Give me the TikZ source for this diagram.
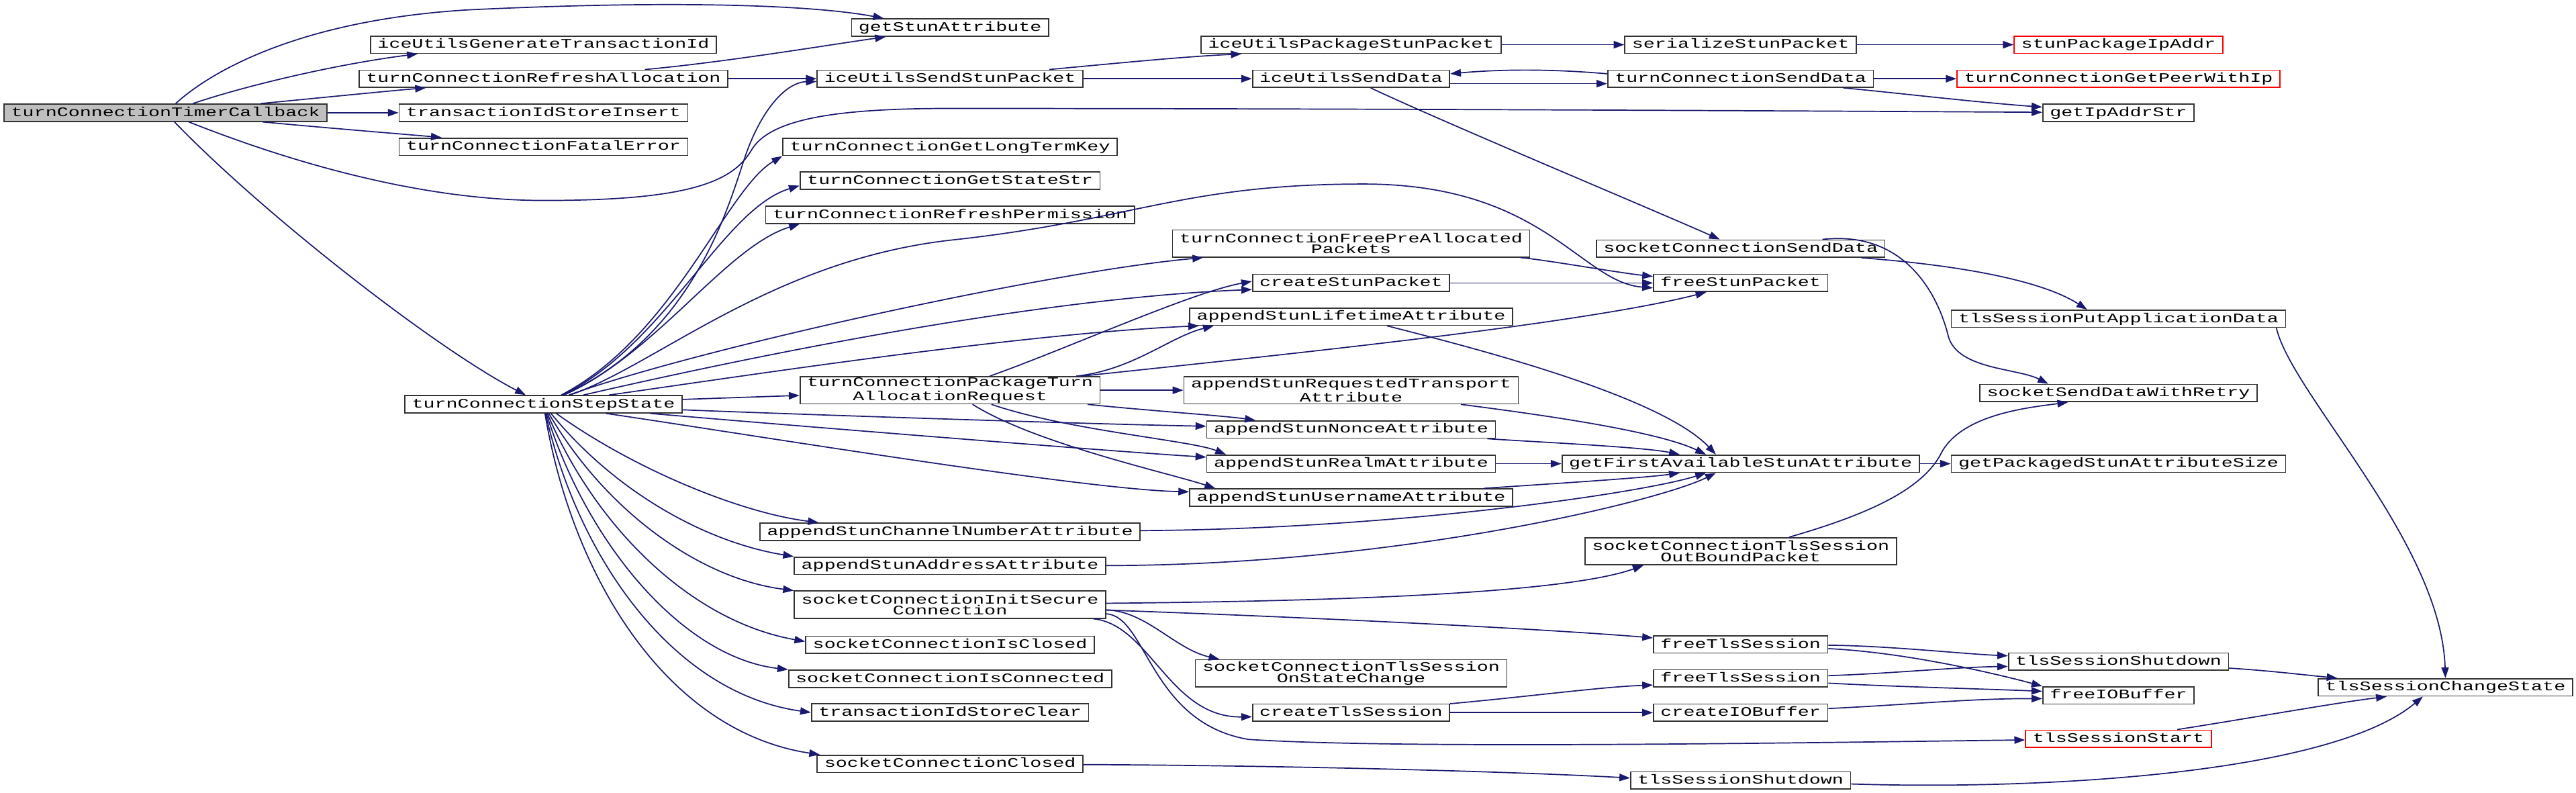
\documentclass[tikz,border=0pt]{standalone}
\usepackage{fontspec}
\newfontfamily\nodefont[FakeStretch=1.45]{Liberation Mono}
\usetikzlibrary{arrows.meta}
\definecolor{edgecol}{HTML}{191970}
\begin{document}
\begin{tikzpicture}[x=1pt,y=-1pt,
  fn/.style={draw=black!80, fill=white, line width=0.7pt, inner xsep=4.3pt, inner ysep=0pt,
    minimum height=10.5pt, font=\nodefont\fontsize{8pt}{6.8pt}\selectfont, align=center,
    text height=5.9pt, text depth=1.6pt},
  two/.style={text height=, text depth=, minimum height=16.5pt},
  redfn/.style={draw=red},
  rootfn/.style={fill=black!25},
  call/.style={draw=edgecol, line width=0.7pt, -{Triangle[length=6.5pt,width=4.5pt]}}
]
\fill[white] (0,0) rectangle (1568,482.6);
\useasboundingbox (0,0) rectangle (1568,482.6);

% rank 0
\node[fn,rootfn] (root) at (100.8,68.6) {turnConnectionTimerCallback};
% rank 1
\node[fn] (N3) at (330.8,27.2) {iceUtilsGenerateTransactionId};
\node[fn] (N4) at (330.8,47.9) {turnConnectionRefreshAllocation};
\node[fn] (N5) at (330.8,68.6) {transactionIdStoreInsert};
\node[fn] (N6) at (330.8,89.3) {turnConnectionFatalError};
\node[fn] (N7) at (330.8,246) {turnConnectionStepState};
% rank 2
\node[fn] (N2) at (578.3,16.8) {getStunAttribute};
\node[fn] (N8) at (578.3,47.9) {iceUtilsSendStunPacket};
\node[fn] (N16) at (578.3,89.4) {turnConnectionGetLongTermKey};
\node[fn] (N17) at (578.3,110) {turnConnectionGetStateStr};
\node[fn] (N18) at (578.3,130.7) {turnConnectionRefreshPermission};
\node[fn,two] (N25) at (578.3,237.5) {turnConnectionPackageTurn\\AllocationRequest};
\node[fn] (N33) at (578.3,323.6) {appendStunChannelNumberAttribute};
\node[fn] (N35) at (578.3,344.3) {appendStunAddressAttribute};
\node[fn,two] (N36) at (578.3,368) {socketConnectionInitSecure\\Connection};
\node[fn] (N40) at (578.3,392.4) {socketConnectionIsClosed};
\node[fn] (N44) at (578.3,413.1) {socketConnectionIsConnected};
\node[fn] (N47) at (578.3,433.6) {transactionIdStoreClear};
\node[fn] (N49) at (578.3,464.9) {socketConnectionClosed};
% rank 3
\node[fn] (N9) at (822.4,27.2) {iceUtilsPackageStunPacket};
\node[fn] (N12) at (822.4,47.9) {iceUtilsSendData};
\node[fn,two] (N19) at (822.4,148.2) {turnConnectionFreePreAllocated\\Packets};
\node[fn] (N21) at (822.4,172.2) {createStunPacket};
\node[fn] (N23) at (822.4,192.7) {appendStunLifetimeAttribute};
\node[fn,two] (N26) at (822.4,237.5) {appendStunRequestedTransport\\Attribute};
\node[fn] (N28) at (822.4,261.4) {appendStunNonceAttribute};
\node[fn] (N31) at (822.4,282.2) {appendStunRealmAttribute};
\node[fn] (N32) at (822.4,302.8) {appendStunUsernameAttribute};
\node[fn,two] (N38) at (822.4,409.8) {socketConnectionTlsSession\\OnStateChange};
\node[fn] (N45) at (822.4,433.7) {createTlsSession};
% rank 4
\node[fn] (N10) at (1059.5,27.2) {serializeStunPacket};
\node[fn] (N13) at (1059.5,47.9) {turnConnectionSendData};
\node[fn] (N20) at (1059.5,151.3) {socketConnectionSendData};
\node[fn] (N22) at (1059.5,172.2) {freeStunPacket};
\node[fn] (N29) at (1059.5,282.2) {getFirstAvailableStunAttribute};
\node[fn,two] (N34) at (1059.5,335.5) {socketConnectionTlsSession\\OutBoundPacket};
\node[fn] (N37) at (1059.5,392.2) {freeTlsSession};
\node[fn] (N42) at (1059.5,412.9) {freeTlsSession};
\node[fn] (N46) at (1059.5,433.7) {createIOBuffer};
\node[fn] (N50) at (1059.5,475) {tlsSessionShutdown};
% rank 5
\node[fn,redfn] (N11) at (1289.5,27.2) {stunPackageIpAddr};
\node[fn,redfn] (N14) at (1289.5,47.9) {turnConnectionGetPeerWithIp};
\node[fn] (N15) at (1289.5,68.6) {getIpAddrStr};
\node[fn] (N24) at (1289.5,194) {tlsSessionPutApplicationData};
\node[fn] (N27) at (1289.5,239.2) {socketSendDataWithRetry};
\node[fn] (N30) at (1289.5,282.2) {getPackagedStunAttributeSize};
\node[fn] (N39) at (1289.5,402.6) {tlsSessionShutdown};
\node[fn] (N41) at (1289.5,423.2) {freeIOBuffer};
\node[fn,redfn] (N48) at (1289.5,449.6) {tlsSessionStart};
% rank 6
\node[fn] (N43) at (1488.5,418.3) {tlsSessionChangeState};

% root edges
\draw[call] (root) .. controls (130,42) and (185,12) .. (285,6) .. controls (410,0) and (495,3) .. ([xshift=20pt]N2.north west);
\draw[call] (root) .. controls (150,52) and (205,39) .. ([xshift=29pt]N3.south west);
\draw[call] (root) .. controls (190,60) and (240,55) .. (N4);
\draw[call] (root) -- (N5);
\draw[call] (root) .. controls (200,78) and (250,82) .. (N6);
\draw[call] (root) .. controls (175,98) and (255,122) .. (331,122) .. controls (415,122) and (445,112) .. (457,92) .. controls (468,72) and (510,66) .. (578,66) .. controls (800,66) and (1100,67.5) .. (N15);
\draw[call] (root) .. controls (160,130) and (265,212) .. (N7);

% N4
\draw[call] (N4) .. controls (440,38) and (500,28) .. (N2);
\draw[call] (N4) -- (N8);

% N8 and upper chain
\draw[call] (N8) .. controls (685,38) and (720,34.5) .. ([xshift=25pt]N9.south west);
\draw[call] (N8) -- (N12);
\draw[call] (N9) -- (N10);
\draw[call] (N10) -- (N11);
\draw[call] ([yshift=-3pt]N12.east) -- ([yshift=-3pt]N13.west);
\draw[call] ([yshift=3pt]N13.west) .. controls (945,42) and (915,42) .. ([yshift=3pt]N12.east);
\draw[call] (N13) -- (N14);
\draw[call] (N13) .. controls (1150,56) and (1200,62) .. (N15);
\draw[call] (N12) .. controls (880,75) and (1000,125) .. (N20);

% N7 fan-out
\draw[call] (N7) .. controls (420,205) and (442,130) .. (452,100) .. controls (462,68) and (478,50) .. (N8);
\draw[call] (N7) .. controls (410,205) and (442,115) .. (N16.south west);
\draw[call] (N7) .. controls (405,210) and (440,127) .. ([yshift=-3pt]N17.west);
\draw[call] (N7) .. controls (400,215) and (442,150) .. ([xshift=21pt]N18.south west);
\draw[call] (N7) .. controls (400,222) and (470,158) .. (580,146) .. controls (690,134) and (720,112) .. (830,112) .. controls (940,112) and (962,172) .. ([yshift=-3pt]N22.west);
\draw[call] (N7) .. controls (425,212) and (640,165) .. ([xshift=19pt]N19.south west);
\draw[call] (N7) .. controls (435,222) and (620,182) .. ([yshift=-4pt]N21.west);
\draw[call] (N7) .. controls (445,230) and (620,203) .. ([xshift=6pt]N23.south west);
\draw[call] (N7) -- (N25);
\draw[call] (N7) .. controls (480,252) and (660,258) .. ([yshift=2pt]N28.west);
\draw[call] (N7) .. controls (470,258) and (680,275) .. ([yshift=4pt]N31.west);
\draw[call] (N7) .. controls (460,265) and (660,298) .. ([yshift=3.5pt]N32.west);
\draw[call] (N7) .. controls (385,285) and (450,312) .. ([xshift=36pt]N33.north west);
\draw[call] (N7) .. controls (375,300) and (430,330) .. (N35.north west);
\draw[call] (N7) .. controls (368,310) and (425,352) .. (N36.north west);
\draw[call] (N7) .. controls (362,320) and (420,378) .. ([yshift=2pt]N40.west);
\draw[call] (N7) .. controls (357,330) and (415,400) .. (N44.north west);
\draw[call] (N7) .. controls (352,340) and (410,422) .. (N47.west);
\draw[call] (N7) .. controls (348,350) and (405,445) .. ([xshift=2pt]N49.north west);

% N25
\draw[call] (N25) .. controls (650,212) and (725,178) .. ([yshift=1pt]N21.west);
\draw[call] (N25) .. controls (690,225) and (712,205) .. ([xshift=15pt]N23.south west);
\draw[call] (N25) .. controls (760,218) and (960,198) .. ([xshift=32.5pt]N22.south west);
\draw[call] (N25) -- (N26);
\draw[call] (N25) .. controls (700,250) and (745,253) .. ([xshift=30pt]N28.north west);
\draw[call] (N25) .. controls (650,262) and (725,268) .. ([xshift=12pt]N31.north west);
\draw[call] (N25) .. controls (630,270) and (712,288) .. ([xshift=16pt]N32.north west);

% into freeStunPacket
\draw[call] (N19) .. controls (940,158) and (985,166) .. ([yshift=4pt]N22.west);
\draw[call] (N21) -- (N22);

% into getFirstAvailableStunAttribute
\draw[call] (N23) .. controls (890,210) and (1010,240) .. ([xshift=94pt]N29.north west);
\draw[call] (N26) .. controls (935,252) and (1008,262) .. ([xshift=88pt]N29.north west);
\draw[call] (N28) .. controls (935,269) and (1000,272) .. ([xshift=72pt]N29.north west);
\draw[call] (N31) -- (N29);
\draw[call] (N32) .. controls (935,295) and (1000,291) .. ([xshift=72pt]N29.south west);
\draw[call] (N33) .. controls (850,322) and (1000,300) .. ([xshift=88pt]N29.south west);
\draw[call] (N35) .. controls (850,344) and (1010,305) .. ([xshift=94pt]N29.south west);
\draw[call] (N29) -- (N30);

% socket / tls
\draw[call] (N20) .. controls (1200,162) and (1245,172) .. ([xshift=83pt]N24.north west);
\draw[call] (N20) .. controls (1160,140) and (1180,180) .. (1186,205) .. controls (1192,225) and (1228,224) .. ([xshift=42pt]N27.north west);
\draw[call] (N34) .. controls (1130,315) and (1170,300) .. (1182,275) .. controls (1195,252) and (1235,248) .. ([xshift=54pt]N27.south west);
\draw[call] ([xshift=-6pt]N24.south east) .. controls (1395,240) and (1486,330) .. (N43.north);

\draw[call] (N36) .. controls (800,366) and (950,362) .. ([xshift=36pt]N34.south west);
\draw[call] (N36) .. controls (780,375) and (930,382) .. ([yshift=4pt]N37.west);
\draw[call] (N36) .. controls (698,372) and (715,395) .. ([xshift=15pt]N38.north west);
\draw[call] (N36) .. controls (700,380) and (712,437) .. ([yshift=-2.5pt]N45.west);
\draw[call] (N36) .. controls (698,375) and (700,440) .. (760,450) .. controls (850,456) and (1100,452) .. (N48);

\draw[call] (N45) -- (N46);
\draw[call] (N45) .. controls (930,424) and (975,418) .. ([yshift=-4pt]N42.west);

\draw[call] (N37) .. controls (1150,393) and (1195,398) .. ([yshift=3.5pt]N39.west);
\draw[call] (N37) .. controls (1160,397) and (1215,410) .. (N41.north west);
\draw[call] (N42) .. controls (1150,410) and (1190,406) .. ([yshift=-3pt]N39.west);
\draw[call] (N42) .. controls (1155,418) and (1200,419) .. ([yshift=2.5pt]N41.west);
\draw[call] (N46) .. controls (1160,429) and (1200,425) .. ([yshift=-2pt]N41.west);

\draw[call] (N39) .. controls (1380,408) and (1405,411) .. ([xshift=12pt]N43.north west);
\draw[call] (N48) .. controls (1370,437) and (1420,428) .. ([xshift=42pt]N43.south west);
\draw[call] (N50) .. controls (1250,481) and (1420,470) .. ([xshift=64pt]N43.south west);

\draw[call] (N49) .. controls (800,466) and (930,470) .. ([yshift=1.5pt]N50.west);
\end{tikzpicture}
\end{document}
